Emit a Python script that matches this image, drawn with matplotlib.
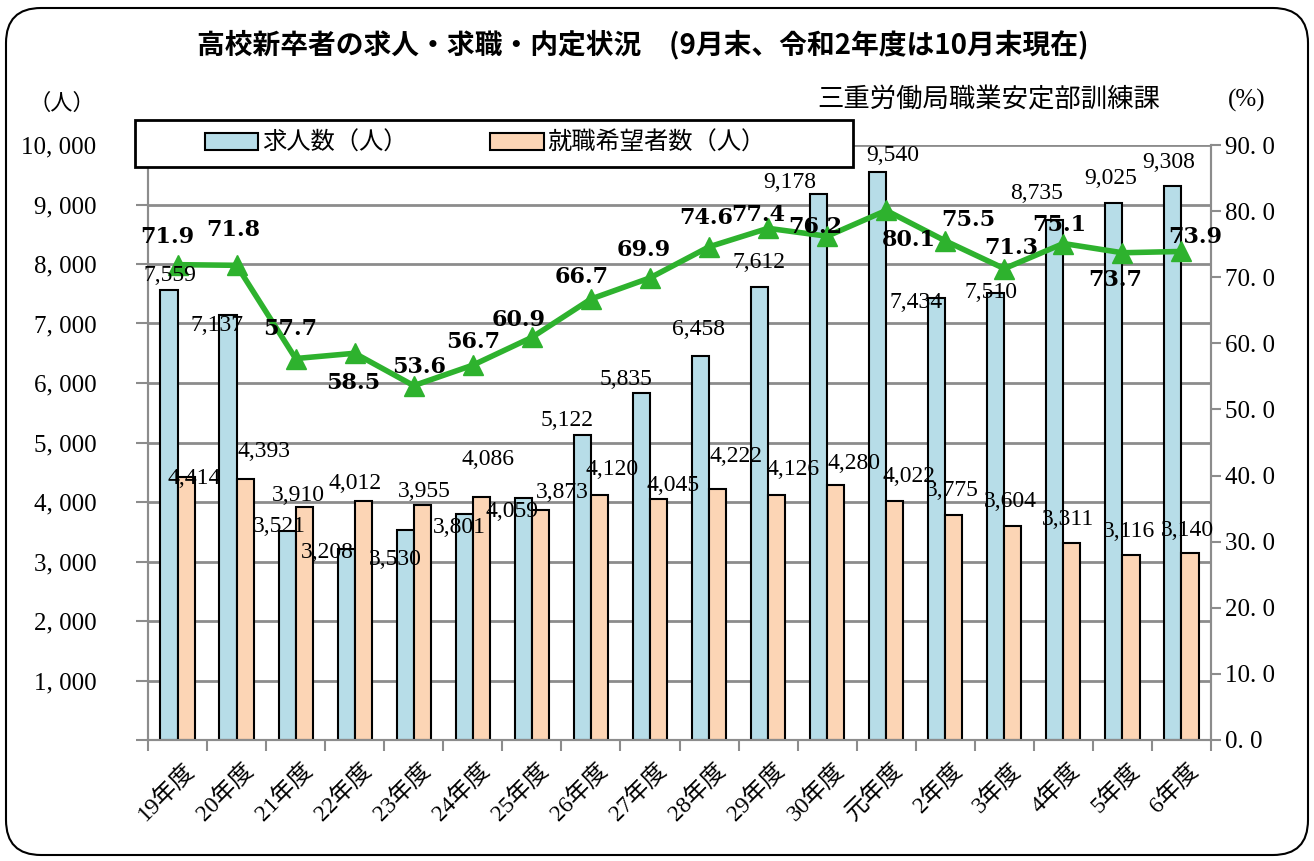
import numpy as np
import matplotlib
matplotlib.use("Agg")
import matplotlib.pyplot as plt
from matplotlib.patches import FancyBboxPatch, Patch, Rectangle
from matplotlib.transforms import ScaledTranslation

years = ["19年度", "20年度", "21年度", "22年度", "23年度", "24年度", "25年度", "26年度", "27年度",
         "28年度", "29年度", "30年度", "元年度", "2年度", "3年度", "4年度", "5年度", "6年度"]
offers = [7559, 7137, 3521, 3208, 3530, 3801, 4059, 5122, 5835, 6458, 7612, 9178, 9540, 7434, 7510, 8735, 9025, 9308]
seekers = [4414, 4393, 3910, 4012, 3955, 4086, 3873, 4120, 4045, 4222, 4126, 4280, 4022, 3775, 3604, 3311, 3116, 3140]
rate = [71.9, 71.8, 57.7, 58.5, 53.6, 56.7, 60.9, 66.7, 69.9, 74.6, 77.4, 76.2, 80.1, 75.5, 71.3, 75.1, 73.7, 73.9]

# label offsets in pixels (dx, dy), as the chart had them nudged by hand
off_offers = [(1, 15), (-11, -10), (-8, 4), (-19, -3), (-10, -30), (-5, -14), (-11, -13), (-15, 15), (-15, 13),
              (-2, 26), (-1, 25), (-29, 11), (15, 17), (-21, -5), (-5, 1), (-18, 27), (-3, 25), (-4, 24)]
off_seekers = [(8, -1), (19, 27), (-6, 12), (-8, 18), (2, 13), (7, 37), (22, 17), (13, 25), (15, 14),
               (18, 32), (16, 25), (18, 22), (14, 24), (-2, 25), (-2, 24), (-4, 23), (-2, 23), (-3, 23)]
off_rate = [(-10, 28), (-3, 35), (-5, 30), (-2, -30), (5, 19), (0, 23), (-13, 17), (-9, 22), (-6, 28),
            (-3, 29), (-10, 13), (-12, 9), (23, -30), (23, 21), (7, 21), (-4, 19), (-7, -27), (14, 14)]

SERIF = ["Liberation Serif", "Noto Sans CJK JP"]
JP = ["Noto Sans CJK JP"]
BLUE = "#b7dde8"
ORANGE = "#fcd5b5"
GREEN = "#2eb22e"
GRID = "#8c8c8c"

W, H = 1314, 861
fig = plt.figure(figsize=(W / 100, H / 100), dpi=100)

# rounded frame round the whole chart
frame = FancyBboxPatch((6 / 100, 6 / 100), (W - 12) / 100, (H - 14) / 100,
                       boxstyle="round,pad=0,rounding_size=0.35", transform=fig.dpi_scale_trans,
                       facecolor="white", edgecolor="black", lw=1.5, zorder=-10)
fig.patches.append(frame)

ax = fig.add_axes([148 / W, 1 - 740 / H, (1211 - 148) / W, (740 - 145) / H])
ax2 = ax.twinx()

x = np.arange(len(years))
bw = 0.29
ax.bar(x - bw / 2, offers, bw, color=BLUE, edgecolor="black", lw=1.5, zorder=3)
ax.bar(x + bw / 2, seekers, bw, color=ORANGE, edgecolor="black", lw=1.5, zorder=3)

ax.set_xlim(-0.5, len(years) - 0.5)
ax.set_ylim(0, 10000)
ax.set_yticks(np.arange(0, 10001, 1000))
ylabels = [f"{v:,}".replace(",", ", ") for v in range(0, 10001, 1000)]
ylabels[0] = ""
ax.set_yticklabels(ylabels, family=SERIF, fontsize=18)
ax.yaxis.grid(True, color=GRID, lw=2)
ax.set_axisbelow(True)
ax.tick_params(axis="y", length=9, width=1.5, color=GRID, pad=28)

ax.set_xticks(x)
ax.set_xticklabels(years, family=SERIF, fontsize=17, rotation=45, ha="right", va="top",
                   rotation_mode="anchor")
ax.tick_params(axis="x", which="major", length=0, pad=14)
ax.set_xticks(np.arange(-0.5, len(years), 1), minor=True)
ax.tick_params(axis="x", which="minor", length=8, width=1.5, color=GRID)
for lab in ax.get_xticklabels():
    lab.set_transform(lab.get_transform() + ScaledTranslation(0.06, 0, fig.dpi_scale_trans))

for s in ["left", "right", "bottom"]:
    ax.spines[s].set_color(GRID)
    ax.spines[s].set_linewidth(1.5)
    ax2.spines[s].set_color(GRID)
    ax2.spines[s].set_linewidth(1.5)
ax.spines["top"].set_visible(False)
ax2.spines["top"].set_visible(False)

ax2.plot(x, rate, color=GREEN, lw=4, marker="^", markersize=15, zorder=4)
ax2.set_ylim(0, 90)
ax2.set_yticks(np.arange(0, 91, 10))
ax2.set_yticklabels([f"{v:.1f}".replace(".", ". ") for v in range(0, 91, 10)], family=SERIF, fontsize=18)
ax2.tick_params(axis="y", length=7, width=1.5, color=GRID, pad=3)

for i in range(len(years)):
    ax2.annotate(f"{offers[i]:,}", xy=(x[i] - bw / 2, offers[i]), xycoords=ax.transData,
                 xytext=off_offers[i], textcoords="offset pixels", ha="center", va="center",
                 family=SERIF, fontsize=17, zorder=5)
    ax2.annotate(f"{seekers[i]:,}", xy=(x[i] + bw / 2, seekers[i]), xycoords=ax.transData,
                 xytext=off_seekers[i], textcoords="offset pixels", ha="center", va="center",
                 family=SERIF, fontsize=17, zorder=5)
    ax2.annotate(f"{rate[i]:.1f}", xy=(x[i], rate[i]), xytext=off_rate[i], textcoords="offset pixels",
                 ha="center", va="center", family="DejaVu Serif", fontweight="bold", fontsize=16, zorder=6)

# legend box drawn by hand, entries placed inside it
box = Rectangle((135 / W, 1 - 167 / H), (853 - 135) / W, 47 / H, transform=fig.transFigure,
                facecolor="white", edgecolor="black", lw=2, zorder=9, clip_on=False)
ax2.add_artist(box)
handles = [Patch(facecolor=BLUE, edgecolor="black", lw=1.5), Patch(facecolor=ORANGE, edgecolor="black", lw=1.5)]
leg = ax2.legend(handles, ["求人数（人）", "就職希望者数（人）"], loc="center left", ncol=2,
                 bbox_to_anchor=(205 / W, 1 - 143 / H), bbox_transform=fig.transFigure,
                 prop={"family": JP, "size": 17.5}, frameon=False, handlelength=2.2, handleheight=0.7,
                 handletextpad=0.15, columnspacing=3.4, borderpad=0, borderaxespad=0)
leg.set_zorder(10)

fig.text(643 / W, 1 - 45 / H, "高校新卒者の求人・求職・内定状況　(9月末、令和2年度は10月末現在)",
         family=JP, fontweight="bold", fontsize=20, ha="center", va="center")
fig.text(62 / W, 1 - 103 / H, "（人）", family=JP, fontsize=16, ha="center", va="center")
fig.text(989 / W, 1 - 100 / H, "三重労働局職業安定部訓練課", family=JP, fontsize=19, ha="center", va="center")
fig.text(1247 / W, 1 - 100 / H, "(%)", family=SERIF, fontsize=18, ha="center", va="center")

fig.savefig("out.png", dpi=100)
